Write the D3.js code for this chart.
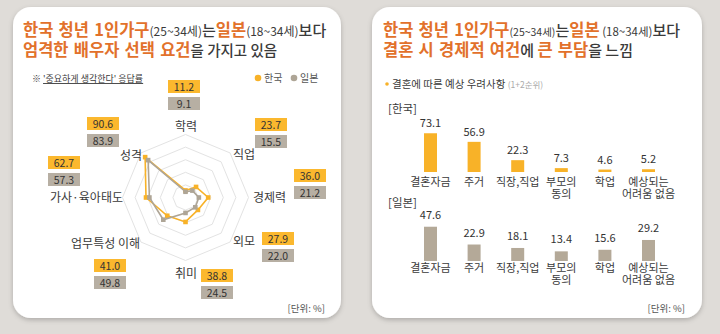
<!DOCTYPE html>
<html>
<head>
<meta charset="utf-8">
<script src="https://cdn.jsdelivr.net/npm/d3@7"></script>
<style>
  body { margin: 0; background: #dfdcd8; }
  svg { display: block; font-family: "Noto Sans CJK KR", "Noto Sans", sans-serif; }
</style>
</head>
<body>
<svg id="chart" width="720" height="334"></svg>
<script>
// 배우자 선택 요건: '중요하게 생각한다' 응답률 (%)
const criteria = ["학력", "직업", "경제력", "외모", "취미", "업무특성 이해", "가사·육아태도", "성격"];
const koreaReq = [11.2, 23.7, 36.0, 27.9, 38.8, 41.0, 62.7, 90.6];
const japanReq = [9.1, 15.5, 21.2, 22.0, 24.5, 49.8, 57.3, 83.9];

// 결혼에 따른 예상 우려사항 (1+2순위, %)
const worries = ["결혼자금", "주거", "직장,직업", "부모의\n동의", "학업", "예상되는\n어려움 없음"];
const koreaWorry = [73.1, 56.9, 22.3, 7.3, 4.6, 5.2];
const japanWorry = [47.6, 22.9, 18.1, 13.4, 15.6, 29.2];

const ORANGE = "#f8b228";
const BOX_OR = "#fbb82e";
const GREY = "#aea596";
const BOX_GR = "#b7afa3";
const TITLE = "#e2712b";
const DARK = "#3a3a3a";

const svg = d3.select("#chart");

// 카드 그림자
const defs = svg.append("defs");
defs.append("filter").attr("id", "shadow")
    .attr("x", "-10%").attr("y", "-10%").attr("width", "120%").attr("height", "125%")
  .append("feDropShadow")
    .attr("dx", 0).attr("dy", 2).attr("stdDeviation", 2.5)
    .attr("flood-color", "#000").attr("flood-opacity", 0.22);

[[13, 341], [372, 702]].forEach(([x0, x1]) => {
  svg.append("rect")
    .attr("x", x0).attr("y", 7).attr("width", x1 - x0).attr("height", 311)
    .attr("rx", 18).attr("fill", "#fff").attr("filter", "url(#shadow)");
});

// 제목 (여러 스타일이 섞인 한 줄)
// p = [글자, 색, 크기, 굵기]
function richLine(x, y, parts) {
  const t = svg.append("text").attr("x", x).attr("y", y);
  parts.forEach(p => {
    const s = t.append("tspan").text(p[0])
      .attr("fill", p[1] === "o" ? TITLE : DARK)
      .attr("font-size", p[2])
      .attr("font-weight", p[3] || 700);
    if (p[1] === "o") s.attr("word-spacing", 1.5);
  });
  return t;
}

richLine(23, 36, [["한국 청년 1인가구", "o", 16.5], ["(25~34세)", "d", 12, 400], ["는", "d", 15, 500],
                  ["일본", "o", 16.5], ["(18~34세)", "d", 12, 400], ["보다", "d", 15, 500]]);
richLine(23, 56, [["엄격한 배우자 선택 요건", "o", 16.5], ["을 가지고 있음", "d", 14.5, 500]]);

richLine(383, 36, [["한국 청년 1인가구", "o", 16.5], ["(25~34세)", "d", 10.5, 400], ["는", "d", 15, 500],
                   ["일본", "o", 16.5], [" (18~34세)", "d", 11.5, 400], ["보다", "d", 15, 500]]);
richLine(383, 56, [["결혼 시 경제적 여건", "o", 16.5], ["에 ", "d", 15, 500], ["큰 부담", "o", 16.5], ["을 느낌", "d", 15, 500]]);

// ---- 왼쪽: 방사형 차트 ----
const note = svg.append("text").attr("x", 32).attr("y", 82).attr("font-size", 9).attr("fill", DARK);
note.append("tspan").text("※ ");
note.append("tspan").text("'중요하게 생각한다' 응답률").attr("text-decoration", "underline");

const legend = [["한국", ORANGE, 258], ["일본", GREY, 294]];
legend.forEach(([name, col, x]) => {
  svg.append("circle").attr("cx", x).attr("cy", 78).attr("r", 3.3).attr("fill", col);
  svg.append("text").attr("x", x + 6).attr("y", 82).attr("font-size", 10)
    .attr("fill", "#555").text(name);
});

const cx = 185.5, cy = 197.5;
const r = d3.scaleLinear().domain([0, 100]).range([0, 63]);
const step = 2 * Math.PI / criteria.length;
const ang = i => i * step;

const radar = svg.append("g").attr("transform", `translate(${cx},${cy})`);

// 눈금 팔각형
[20, 40, 60, 80, 100].forEach(v => {
  const pts = criteria.map((c, i) => [r(v) * Math.sin(ang(i)), -r(v) * Math.cos(ang(i))]);
  radar.append("path")
    .attr("d", d3.line().curve(d3.curveLinearClosed)(pts))
    .attr("fill", "none").attr("stroke", "#e3e3e3").attr("stroke-width", 1);
});

const radial = d3.lineRadial()
  .angle((d, i) => ang(i))
  .radius(d => r(d))
  .curve(d3.curveLinearClosed);

[[koreaReq, ORANGE], [japanReq, GREY]].forEach(([vals, col]) => {
  radar.append("path").attr("d", radial(vals))
    .attr("fill", "none").attr("stroke", col).attr("stroke-width", 1.6);
  radar.selectAll(null).data(vals).join("rect")
    .attr("x", (d, i) => r(d) * Math.sin(ang(i)) - 2.3)
    .attr("y", (d, i) => -r(d) * Math.cos(ang(i)) - 2.3)
    .attr("width", 4.6).attr("height", 4.6)
    .attr("fill", col);
});

// 축 이름과 값 상자 배치
const axisLayout = [
  { lx: 186, ly: 131, a: "middle", bx: 168, by: 80 },
  { lx: 233, ly: 159, a: "start", bx: 255, by: 118 },
  { lx: 253, ly: 202, a: "start", bx: 294, by: 169 },
  { lx: 233, ly: 246, a: "start", bx: 262, by: 232 },
  { lx: 175, ly: 278, a: "start", bx: 201, by: 269 },
  { lx: 140, ly: 248, a: "end", bx: 94, by: 259 },
  { lx: 123, ly: 202, a: "end", bx: 48, by: 156 },
  { lx: 142, ly: 160, a: "end", bx: 87, by: 117 }
];

criteria.forEach((c, i) => {
  const L = axisLayout[i];
  svg.append("text").attr("x", L.lx).attr("y", L.ly)
    .attr("text-anchor", L.a).attr("font-size", 12).attr("fill", DARK).text(c);
  [[koreaReq[i], BOX_OR, 0], [japanReq[i], BOX_GR, 17]].forEach(([v, col, dy]) => {
    svg.append("rect").attr("x", L.bx).attr("y", L.by + dy)
      .attr("width", 32).attr("height", 13).attr("fill", col);
    svg.append("text").attr("x", L.bx + 16).attr("y", L.by + dy + 10.5)
      .attr("text-anchor", "middle").attr("font-size", 10.5).attr("fill", "#333")
      .text(v.toFixed(1));
  });
});

svg.append("text").attr("x", 325).attr("y", 312).attr("text-anchor", "end")
  .attr("font-size", 9.5).attr("fill", "#555").text("[단위: %]");

// ---- 오른쪽: 막대 차트 ----
svg.append("circle").attr("cx", 387).attr("cy", 84).attr("r", 1.8).attr("fill", ORANGE);
const sub = svg.append("text").attr("x", 392).attr("y", 88).attr("fill", DARK);
sub.append("tspan").text("결혼에 따른 예상 우려사항 ").attr("font-size", 10.5);
sub.append("tspan").text("(1+2순위)").attr("font-size", 8.5).attr("fill", "#aaa");

const x = d3.scalePoint().domain(worries).range([430.5, 648.5]);
const barW = 13;

function barRow(vals, col, tag, tagY, y, labelGap, catY) {
  svg.append("text").attr("x", 388).attr("y", tagY).attr("font-size", 11.5)
    .attr("fill", DARK).text(tag);
  const g = svg.append("g");
  g.selectAll("rect").data(vals).join("rect")
    .attr("x", (d, i) => x(worries[i]) - barW / 2)
    .attr("y", d => y(d))
    .attr("width", barW)
    .attr("height", d => y(0) - y(d))
    .attr("fill", col);
  g.selectAll("text.val").data(vals).join("text").attr("class", "val")
    .attr("x", (d, i) => x(worries[i]))
    .attr("y", d => y(d) - labelGap)
    .attr("text-anchor", "middle").attr("font-size", 11).attr("fill", "#333")
    .text(d => d.toFixed(1));
  worries.forEach(w => {
    const t = g.append("text").attr("x", x(w)).attr("y", catY)
      .attr("text-anchor", "middle").attr("font-size", 11).attr("fill", DARK);
    w.split("\n").forEach((line, k) => {
      t.append("tspan").attr("x", x(w)).attr("dy", k ? 12 : 0).text(line);
    });
  });
}

const yKor = d3.scaleLinear().domain([0, 100]).range([172, 119]);
const yJpn = d3.scaleLinear().domain([0, 100]).range([261, 189]);

barRow(koreaWorry, ORANGE, "[한국]", 113, yKor, 6, 186);
barRow(japanWorry, "#b4a998", "[일본]", 207, yJpn, 8, 272);

svg.append("text").attr("x", 685).attr("y", 312).attr("text-anchor", "end")
  .attr("font-size", 9.5).attr("fill", "#555").text("[단위: %]");
</script>
</body>
</html>
